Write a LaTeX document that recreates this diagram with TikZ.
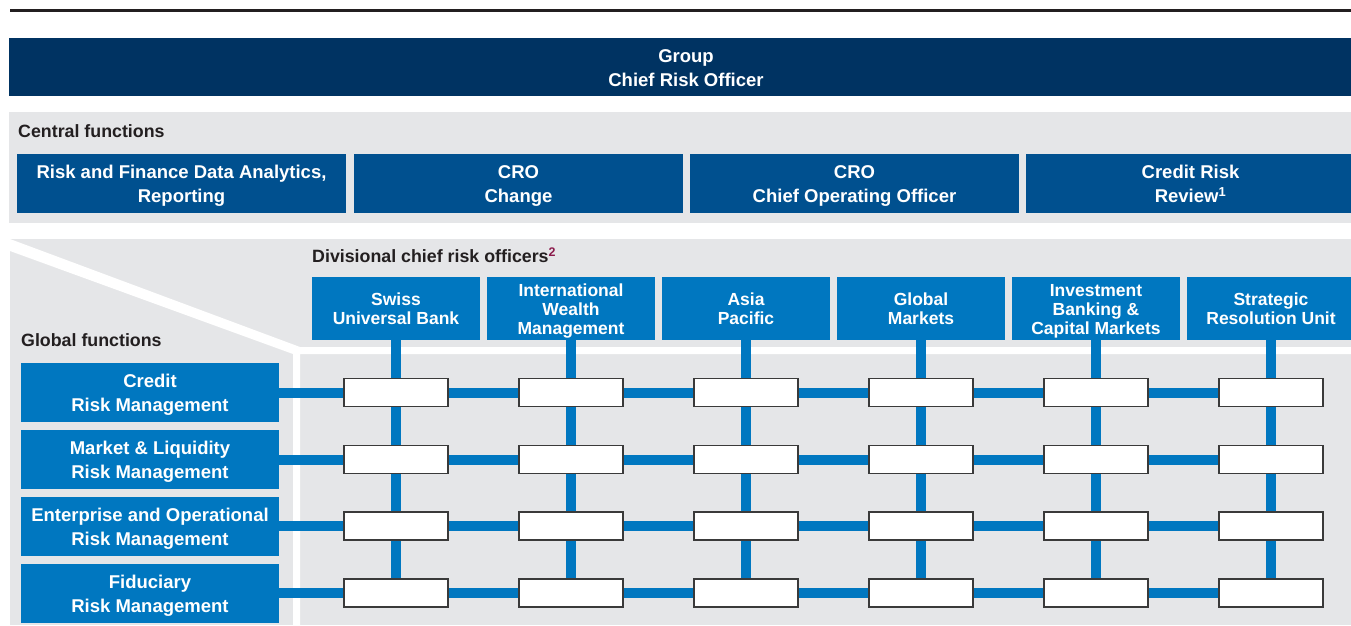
\documentclass[tikz,border=0pt]{standalone}
\usepackage{fontspec}
\setmainfont{Liberation Sans}
\usetikzlibrary{backgrounds}
\pgfdeclarelayer{lines}
\pgfsetlayers{background,lines,main}
\definecolor{navy}{HTML}{003362}
\definecolor{midblue}{HTML}{00508F}
\definecolor{ltblue}{HTML}{0077C0}
\definecolor{panel}{HTML}{E5E6E8}
\definecolor{ink}{HTML}{231F20}
\definecolor{notered}{HTML}{8B1A4B}
\definecolor{cellline}{HTML}{3A3A3A}
\begin{document}
\begin{tikzpicture}[x=1pt,y=-1pt,
  boxbase/.style={inner sep=0pt, text=white, align=center, font=\bfseries\fontsize{18.5}{24}\selectfont,
     text height=43.3pt, text depth=5pt},
  hdrbox/.style={boxbase, fill=navy, minimum width=1354pt, minimum height=58pt},
  cenbox/.style={boxbase, fill=midblue, minimum width=329pt, minimum height=59pt},
  glbbox/.style={boxbase, fill=ltblue, minimum width=258pt, minimum height=59pt},
  divbox/.style={boxbase, fill=ltblue, minimum width=168pt, minimum height=63pt, font=\bfseries\fontsize{17.5}{19}\selectfont,
     text height=37.6pt},
  divthree/.style={divbox, text height=56.6pt},
  cellbox/.style={fill=white, draw=cellline, line width=1.2pt, minimum width=104pt, minimum height=28pt, inner sep=0pt},
  conn/.style={draw=ltblue, line width=10pt},
  lbl/.style={anchor=west, inner sep=0pt, text=ink, font=\bfseries\fontsize{17.8}{22}\selectfont},
]
\useasboundingbox (0,0) rectangle (1351,625);
\clip (0,0) rectangle (1351,625);

% background panels
\begin{pgfonlayer}{background}
  \fill[white] (0,0) rectangle (1351,625);
  \draw[ink, line width=3pt] (10,10.5) -- (1351,10.5);
  \fill[panel] (9,112) rectangle (1351,223);
  \fill[panel] (10,239) rectangle (1351,625);
  \fill[white] (10,239) -- (300,347) -- (1351,347) -- (1351,354) -- (300,354)
     -- (300,625) -- (293,625) -- (293,354) -- (10,251) -- cycle;
\end{pgfonlayer}

% header
\node[hdrbox] (hdr) at (686,67) {Group\\Chief Risk Officer};

% central functions
\node[lbl] (cflabel) at (18,131) {Central functions};
\node[cenbox] (cf1) at (181.5,183.5) {Risk and Finance Data Analytics,\\Reporting};
\node[cenbox] (cf2) at (518.5,183.5) {CRO\\Change};
\node[cenbox] (cf3) at (854.5,183.5) {CRO\\Chief Operating Officer};
\node[cenbox] (cf4) at (1190.5,183.5) {Credit Risk\\Review\smash{\textsuperscript{1}}};

% divisional
\node[lbl] (dlabel) at (312,256) {Divisional chief risk officers\smash{\textsuperscript{\textcolor{notered}{2}}}};
\node[divbox] (d1) at (396,308.5) {Swiss\\Universal Bank};
\node[divthree] (d2) at (571,308.5) {International\\Wealth\\Management};
\node[divbox] (d3) at (746,308.5) {Asia\\Pacific};
\node[divbox] (d4) at (921,308.5) {Global\\Markets};
\node[divthree] (d5) at (1096,308.5) {Investment\\Banking \&\\Capital Markets};
\node[divbox] (d6) at (1271,308.5) {Strategic\\Resolution Unit};

% global
\node[lbl] (glabel) at (21,340) {Global functions};
\node[glbbox] (g1) at (150,392.5) {Credit\\Risk Management};
\node[glbbox] (g2) at (150,459.5) {Market \& Liquidity\\Risk Management};
\node[glbbox] (g3) at (150,526) {Enterprise and Operational\\Risk Management};
\node[glbbox] (g4) at (150,593) {Fiduciary\\Risk Management};

% cells
\foreach \i/\y in {1/392.5,2/459.5,3/526,4/593}{
  \foreach \j in {1,...,6}{
    \node[cellbox] (c\i-\j) at ({396+175*(\j-1)},\y) {};
  }
}

% connectors
\begin{pgfonlayer}{lines}
  \foreach \i in {1,...,4} \draw[conn] (g\i.east) -- (c\i-6.center);
  \foreach \j in {1,...,6} \draw[conn] (d\j.south) -- (c4-\j.center);
\end{pgfonlayer}
\end{tikzpicture}
\end{document}
